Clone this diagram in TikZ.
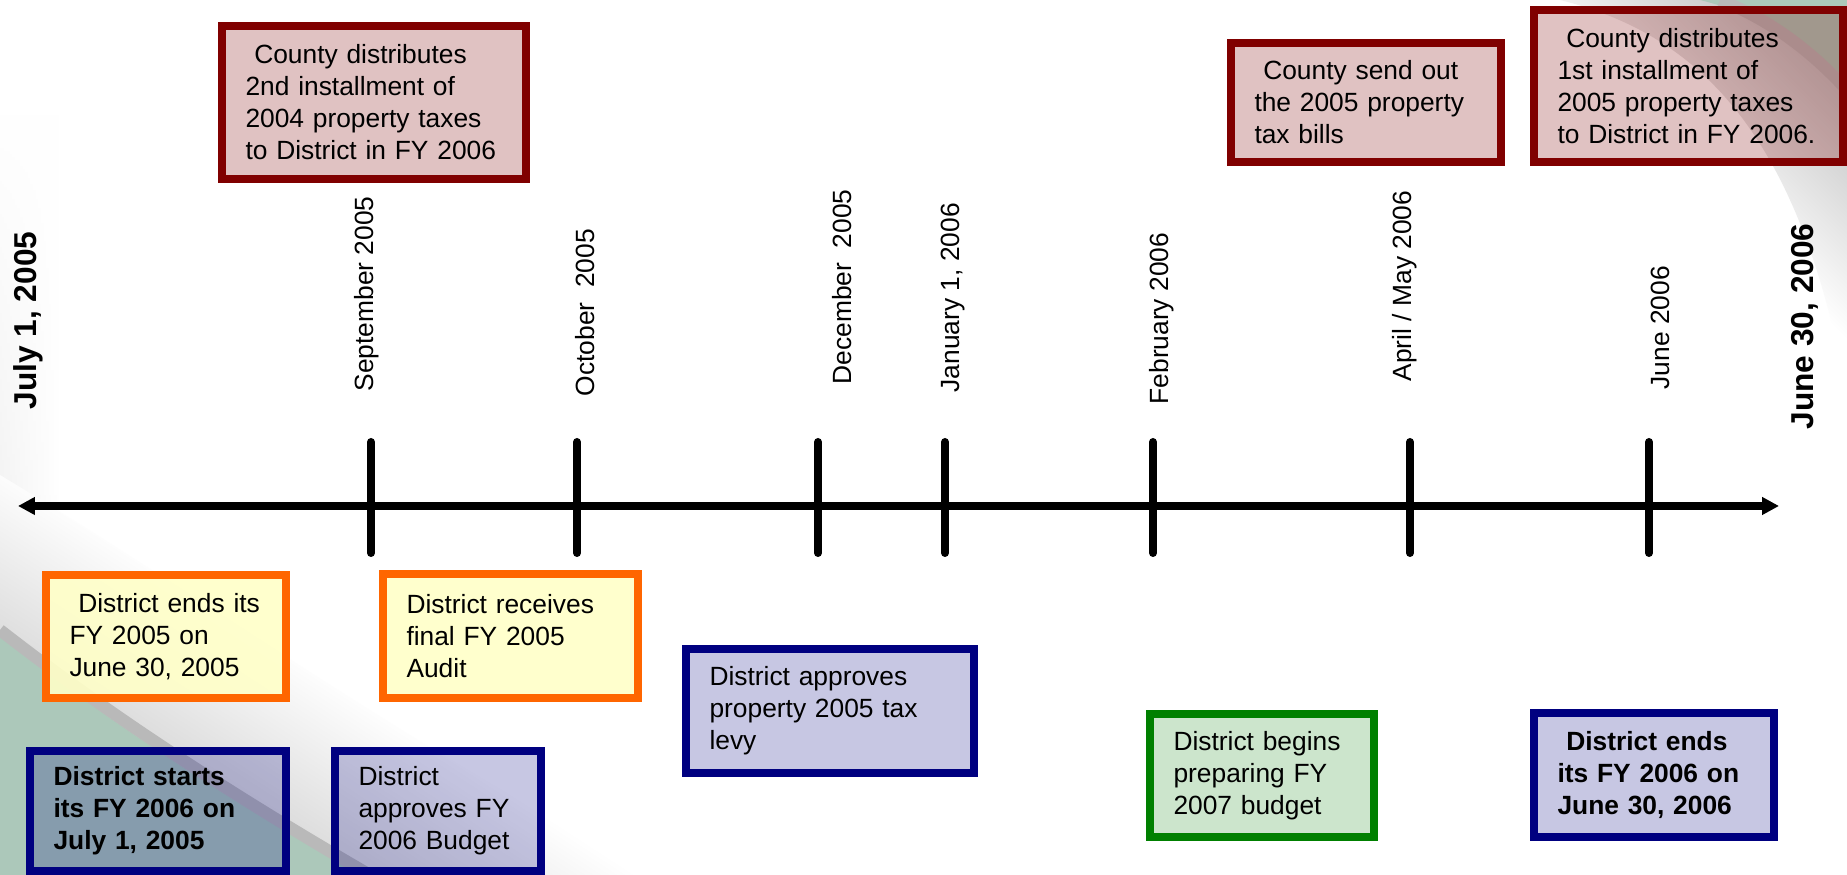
\documentclass[tikz,border=0pt]{standalone}
\RequirePackage{fontspec}
\setmainfont{Liberation Sans}
\RequirePackage{tikz}
\RequirePackage{tkz-euclide}
\usetikzlibrary{arrows.meta}
\usetikzlibrary{fadings}

\definecolor{boxmaroon}{RGB}{128,0,0}
\definecolor{boxorange}{RGB}{255,102,0}
\definecolor{boxnavy}{RGB}{0,0,128}
\definecolor{boxgreen}{RGB}{0,128,0}
\definecolor{boxcream}{RGB}{255,255,200}
\definecolor{swoosh}{RGB}{172,200,186}

\tikzset{
    axisline/.style={{Triangle[length=1.7mm,width=1.7mm]}-{Triangle[length=1.7mm,width=1.7mm]},line width=0.8mm,black},
    tickline/.style={line width=0.8mm,black},
    datelbl/.style={inner sep=0pt,font=\fontsize{7.5}{9}\selectfont},
    endlbl/.style={inner sep=0pt,font=\fontsize{9}{11}\selectfont\bfseries},
    evbox/.style 2 args={draw,line width=0.8mm,inner sep=0pt,minimum width=#1,minimum height=#2,
        text width=#1-4.7mm,align=left,text opacity=1,font=\fontsize{7.5}{9.1}\selectfont},
    mbox/.style 2 args={evbox={#1}{#2},draw=boxmaroon,fill=boxmaroon,fill opacity=0.24},
    obox/.style 2 args={evbox={#1}{#2},draw=boxorange,fill=boxcream,fill opacity=0.9},
    nbox/.style 2 args={evbox={#1}{#2},draw=boxnavy,fill=boxnavy,fill opacity=0.22},
    gbox/.style 2 args={evbox={#1}{#2},draw=boxgreen,fill=boxgreen,fill opacity=0.2}
}

\begin{document}
\begin{tikzpicture}[x=1cm,y=1cm]
                \useasboundingbox (0,0) rectangle (18.47,8.75);
                \fill[white] (0,0) rectangle (18.47,8.75);

                \shade[left color=gray!18,right color=white,path fading=north] (0,0) rectangle (0.6,7.6);
                \shade[top color=white,bottom color=gray!45,middle color=white,shading angle=-33] (0,4.0) .. controls (2.0,2.8) and (4.5,1.0) .. (6.6,0) -- (0,0) -- cycle;
                \fill[swoosh] (0,2.38) .. controls (1.0,1.6) and (2.2,0.8) .. (3.6,0) -- (0,0) -- cycle;
                \draw[gray!55,line width=1.2mm] (0,2.45) .. controls (1.0,1.67) and (2.2,0.87) .. (3.7,0);

                \shade[top color=gray!45,bottom color=white,middle color=white,shading angle=-45] (15.6,8.75) .. controls (17.0,8.4) and (18.0,7.4) .. (18.47,4.8) -- (18.47,8.75) -- cycle;
                \fill[swoosh] (17.0,8.75) .. controls (17.6,8.6) and (18.1,8.3) .. (18.47,7.95) -- (18.47,8.75) -- cycle;
                \draw[gray!55,line width=1.2mm] (17.2,8.75) .. controls (17.7,8.55) and (18.1,8.25) .. (18.47,7.85);

                \tkzDefPoint(0.18,3.69){Start}
                \tkzDefPoint(17.79,3.69){Stop}
                \tkzDefPoint(3.71,4.33){SepT}
                \tkzDefPoint(3.71,3.22){SepB}
                \tkzDefPoint(5.77,4.33){OctT}
                \tkzDefPoint(5.77,3.22){OctB}
                \tkzDefPoint(8.18,4.33){DecT}
                \tkzDefPoint(8.18,3.22){DecB}
                \tkzDefPoint(9.45,4.33){JanT}
                \tkzDefPoint(9.45,3.22){JanB}
                \tkzDefPoint(11.53,4.33){FebT}
                \tkzDefPoint(11.53,3.22){FebB}
                \tkzDefPoint(14.10,4.33){AprT}
                \tkzDefPoint(14.10,3.22){AprB}
                \tkzDefPoint(16.49,4.33){JunT}
                \tkzDefPoint(16.49,3.22){JunB}

                \tkzDrawSegment[axisline](Start,Stop)
                \tkzDrawSegment[tickline](SepT,SepB)
                \tkzDrawSegment[tickline](OctT,OctB)
                \tkzDrawSegment[tickline](DecT,DecB)
                \tkzDrawSegment[tickline](JanT,JanB)
                \tkzDrawSegment[tickline](FebT,FebB)
                \tkzDrawSegment[tickline](AprT,AprB)
                \tkzDrawSegment[tickline](JunT,JunB)

                \node[endlbl,rotate=90,anchor=west] (fystart) at (0.28,4.65) {July 1, 2005};
                \node[endlbl,rotate=90,anchor=west] (fyend) at (18.05,4.45) {June 30, 2006};

                \node[datelbl,rotate=90,anchor=west] (sept) at (3.67,4.83) {September 2005};
                \node[datelbl,rotate=90,anchor=west] (octo) at (5.85,4.78) {October\ \ 2005};
                \node[datelbl,rotate=90,anchor=west] (dece) at (8.42,4.90) {December\ \ 2005};
                \node[datelbl,rotate=90,anchor=west] (janu) at (9.53,4.82) {January 1, 2006};
                \node[datelbl,rotate=90,anchor=west] (febr) at (11.62,4.70) {February 2006};
                \node[datelbl,rotate=90,anchor=west] (apri) at (14.05,4.93) {April / May 2006};
                \node[datelbl,rotate=90,anchor=west] (june) at (16.60,4.85) {June 2006};

                \node[mbox={3.04cm}{1.53cm}] (instal2) at (3.74,7.725) {\ County distributes\\2nd installment of\\2004 property taxes\\to District in FY 2006};
                \node[mbox={2.70cm}{1.19cm}] (bills) at (13.66,7.725) {\ County send out\\the 2005 property\\tax bills};
                \node[mbox={3.09cm}{1.52cm}] (instal1) at (16.885,7.89) {\ County distributes\\1st installment of\\2005 property taxes\\to District in FY 2006.};

                \node[obox={2.40cm}{1.23cm}] (endold) at (1.66,2.385) {\ District ends its\\FY 2005 on\\June 30, 2005};
                \node[obox={2.55cm}{1.24cm}] (audit) at (5.105,2.39) {District receives\\final FY 2005\\Audit};

                \node[nbox={2.56cm}{1.20cm},font=\fontsize{7.5}{9.1}\selectfont\bfseries] (startnew) at (1.58,0.64) {District starts\\its FY 2006 on\\July 1, 2005};
                \node[nbox={2.06cm}{1.20cm}] (budget) at (4.38,0.64) {District\\approves FY\\2006 Budget};
                \node[nbox={2.88cm}{1.24cm}] (levy) at (8.30,1.64) {District approves\\property 2005 tax\\levy};
                \node[gbox={2.24cm}{1.23cm}] (prepare) at (12.62,0.995) {District begins\\preparing FY\\2007 budget};
                \node[nbox={2.40cm}{1.24cm},font=\fontsize{7.5}{9.1}\selectfont\bfseries] (endnew) at (16.54,1.00) {\ District ends\\its FY 2006 on\\June 30, 2006};
\end{tikzpicture}
\end{document}
